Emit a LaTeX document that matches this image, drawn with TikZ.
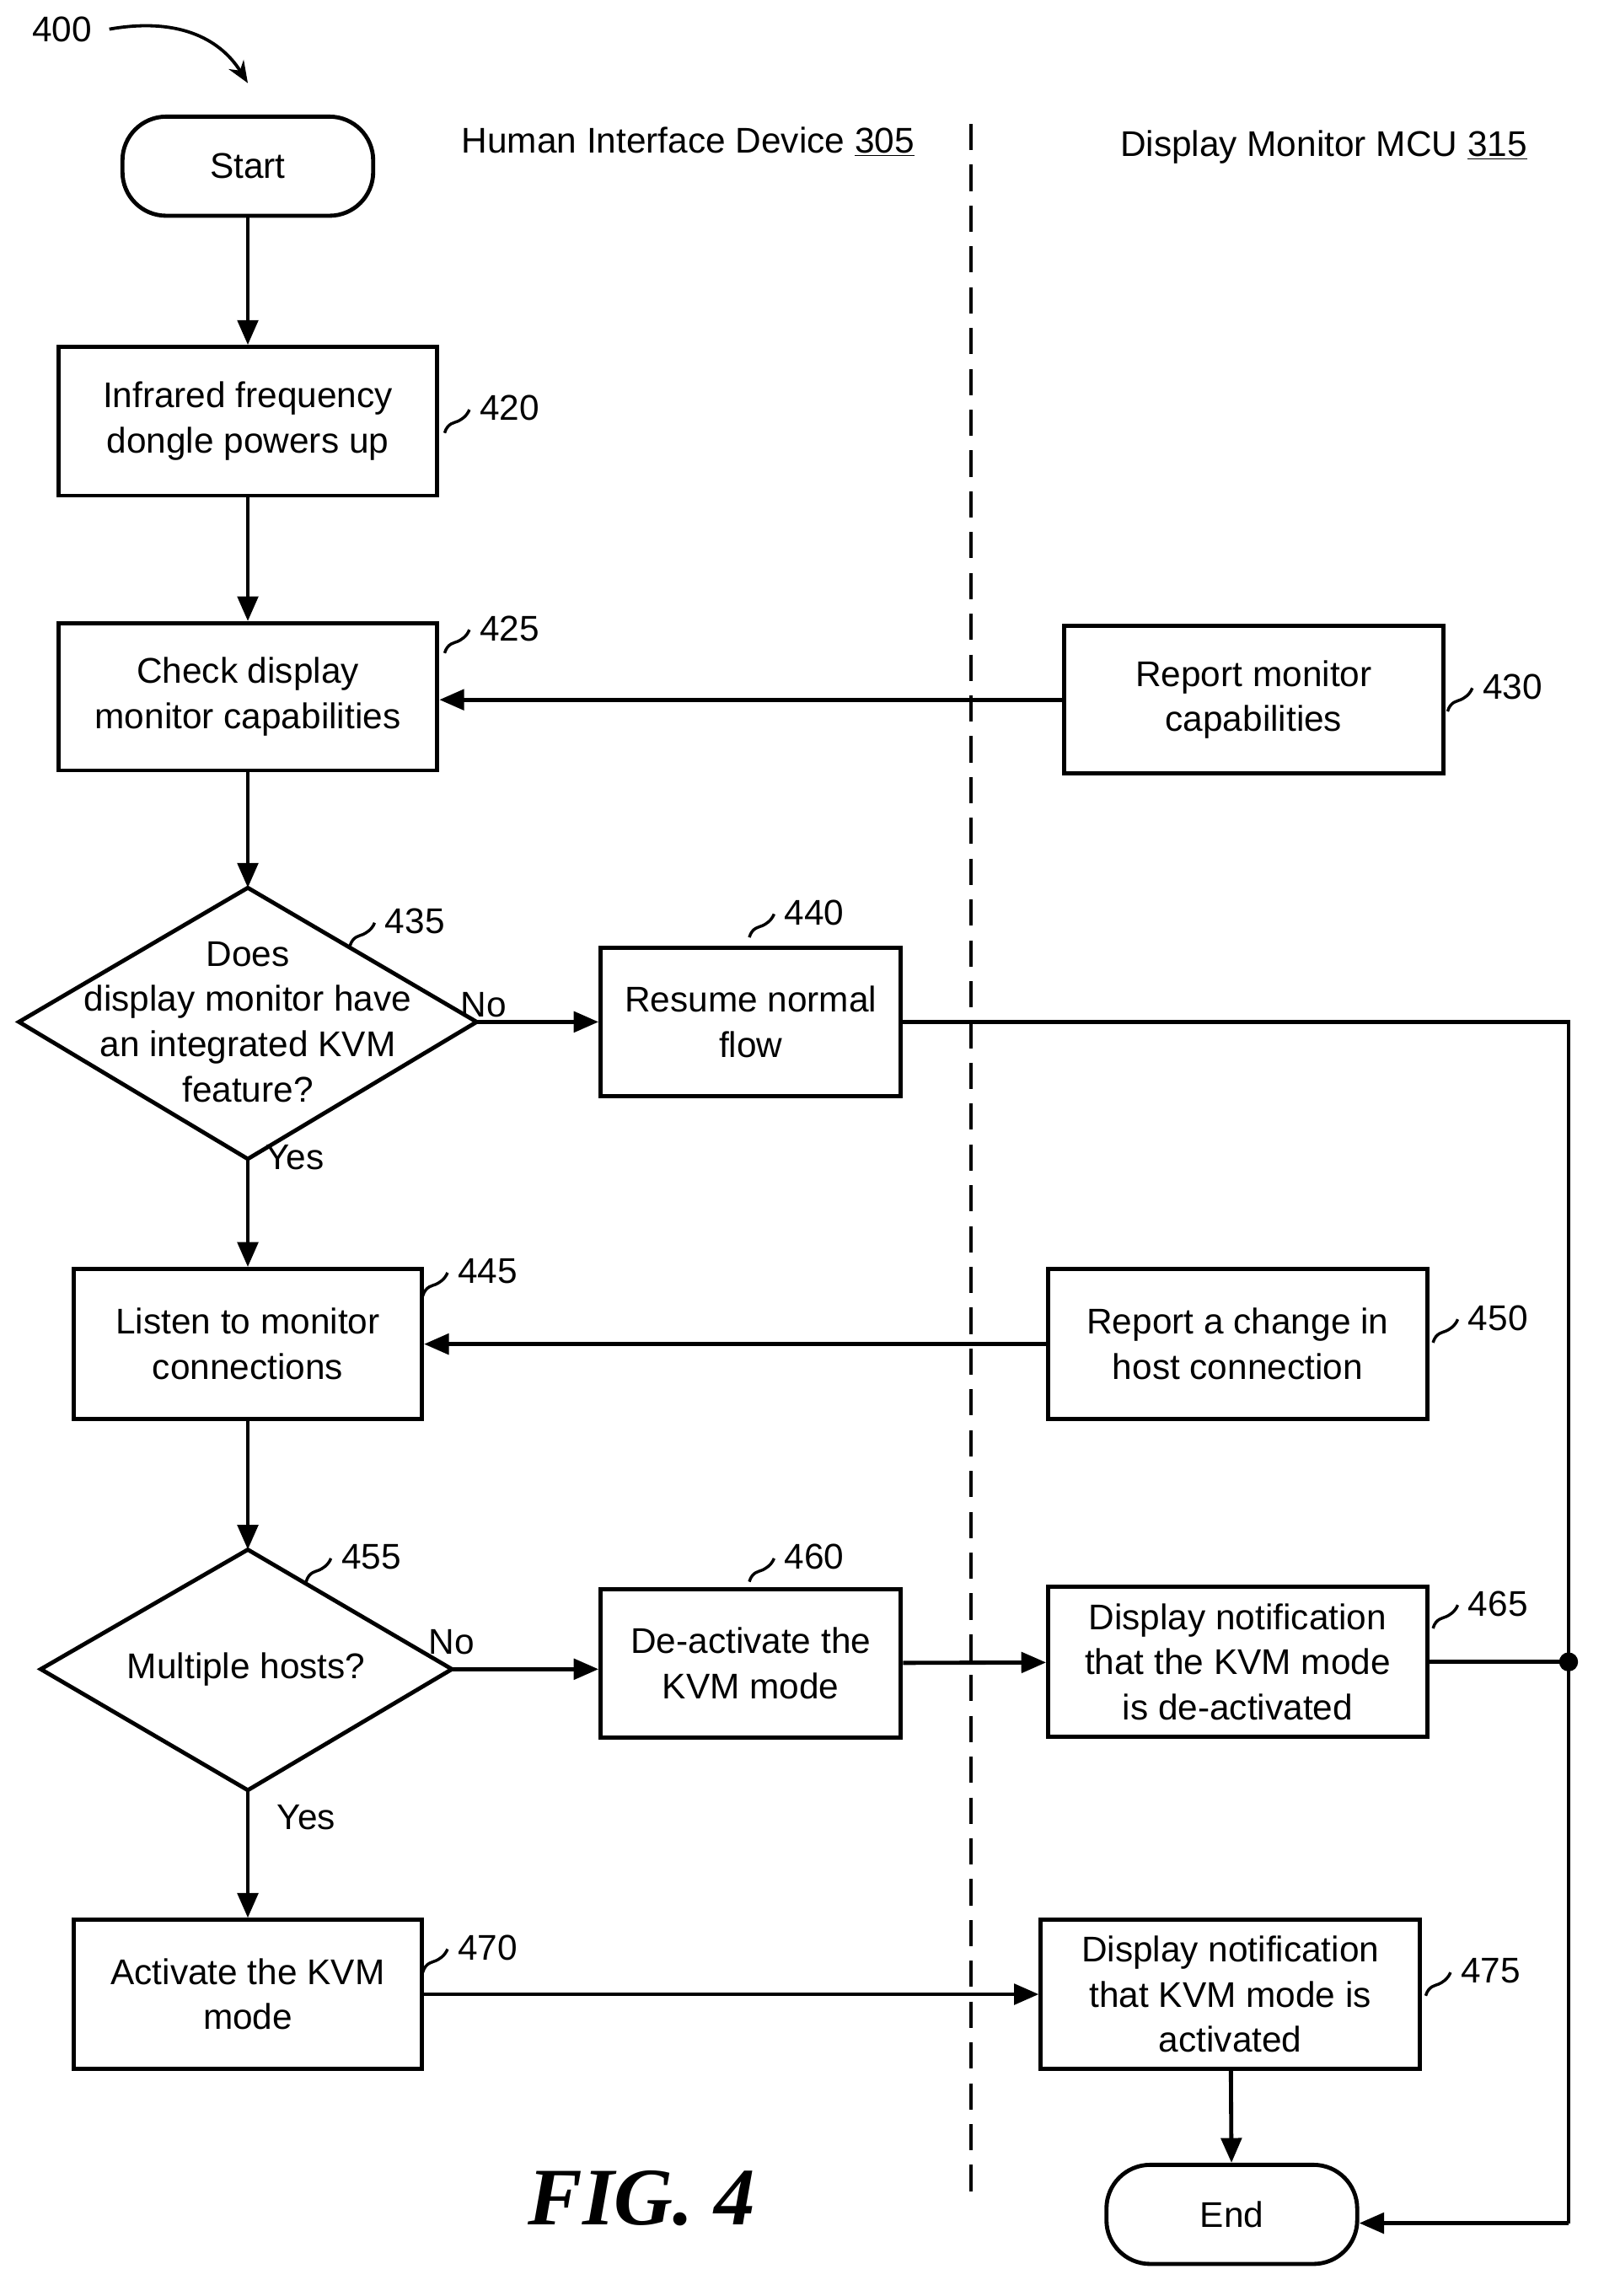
\documentclass[tikz,border=0pt]{standalone}
\usepackage{fontspec}
\setmainfont{Liberation Sans}
\newfontfamily\figfont{Liberation Serif}
\usetikzlibrary{shapes.geometric,arrows.meta}
\begin{document}
\begin{tikzpicture}[x=1pt,y=-1pt,
  every node/.style={font=\fontsize{24.5}{31}\selectfont},
  box/.style={draw,line width=2.8pt,align=center,inner sep=0pt},
  term/.style={draw,line width=2.8pt,rounded corners=30pt,minimum width=172pt,minimum height=68pt},
  arr/.style={line width=2.8pt,-{Triangle[length=17pt,width=14pt]}},
  ln/.style={line width=2.8pt}]
\newcommand\lbl[3]{\draw[line width=2pt] (#1,#2) .. controls (#1+2,#2-7) and (#1+7,#2-7) .. (#1+9,#2-8) .. controls (#1+11,#2-9) and (#1+15,#2-11) .. (#1+17,#2-16);
\node[anchor=west,inner sep=0pt] at (#1+24,#2-17) {#3};}
\useasboundingbox (0,0) rectangle (1100,1575);
% header
\node[anchor=west,inner sep=0pt] (n400) at (22,20) {400};
\draw[line width=2.2pt,-{Stealth[length=15pt,width=12pt]}] (75,20) .. controls (120,12) and (150,25) .. (170,57);
\node (h1) at (472,97) {Human Interface Device \underline{305}};
\node (h2) at (908,101) {Display Monitor MCU \underline{315}};
\draw[line width=2.6pt,dash pattern=on 18pt off 10pt] (666,85) -- (666,1510);
% nodes
\node[term] (start) at (170,114) {Start};
\node[box,minimum width=260pt,minimum height=102pt] (b420) at (170,289) {Infrared frequency\\dongle powers up};
\node[box,minimum width=260pt,minimum height=101pt] (b425) at (170,478) {Check display\\monitor capabilities};
\node[box,minimum width=260pt,minimum height=101pt] (b430) at (860,480) {Report monitor\\capabilities};
\draw[ln] (170,609) -- (327,701) -- (170,795) -- (13,701) -- cycle;
\node[align=center] (t435) at (170,701) {Does\\display monitor have\\an integrated KVM\\feature?};
\coordinate (d435t) at (170,609); \coordinate (d435r) at (327,701); \coordinate (d435b) at (170,795);
\node[box,minimum width=206pt,minimum height=102pt] (b440) at (515,701) {Resume normal\\flow};
\node[box,minimum width=239pt,minimum height=103pt] (b445) at (170,922) {Listen to monitor\\connections};
\node[box,minimum width=260pt,minimum height=103pt] (b450) at (849,922) {Report a change in\\host connection};
\draw[ln] (170,1063) -- (310,1145) -- (170,1228) -- (28,1145) -- cycle;
\node (t455) at (169,1145) {Multiple hosts?};
\coordinate (d455t) at (170,1063); \coordinate (d455r) at (310,1145); \coordinate (d455b) at (170,1228);
\node[box,minimum width=206pt,minimum height=102pt] (b460) at (515,1141) {De-activate the\\KVM mode};
\node[box,minimum width=260pt,minimum height=103pt] (b465) at (849,1140) {Display notification\\that the KVM mode\\is de-activated};
\node[box,minimum width=239pt,minimum height=102pt] (b470) at (170,1368) {Activate the KVM\\mode};
\node[box,minimum width=260pt,minimum height=102pt] (b475) at (844,1368) {Display notification\\that KVM mode is\\activated};
\node[term] (end) at (845,1519) {End};
% labels
\lbl{305}{297}{420}
\lbl{305}{448}{425}
\lbl{993}{488}{430}
\lbl{240}{649}{435}
\lbl{514}{643}{440}
\lbl{290}{889}{445}
\lbl{983}{921}{450}
\lbl{210}{1085}{455}
\lbl{514}{1085}{460}
\lbl{983}{1117}{465}
\lbl{290}{1353}{470}
\lbl{978}{1369}{475}
% connectors
\draw[arr] (start) -- (b420);
\draw[arr] (b420) -- (b425);
\draw[arr] (b430.west) -- (b425.east |- b430.west);
\draw[arr] (b425) -- (d435t);
\draw[arr] (d435r) -- (b440.west);
\node[anchor=south west,inner sep=2pt] (no1) at (314,700) {No};
\draw[arr] (d435b) -- (b445);
\node[anchor=north west,inner sep=2pt] (yes1) at (180,783) {Yes};
\draw[arr] (b450) -- (b445);
\draw[arr] (b445) -- (d455t);
\draw[arr] (d455r) -- (b460.west |- d455r);
\node[anchor=south west,inner sep=2pt] (no2) at (292,1137) {No};
\draw[arr] (b460) -- (b465);
\draw[arr] (d455b) -- (b470);
\node[anchor=north west,inner sep=2pt] (yes2) at (188,1236) {Yes};
\draw[arr] (b470) -- (b475);
\draw[arr] (b475) -- (end);
\coordinate (r1) at (1076,701);
\coordinate (dot) at (1076,1140);
\coordinate (r2) at (1076,1525);
\draw[ln] (b440.east) -- (r1) -- (r2);
\draw[arr] (r2) -- (end.east |- r2);
\draw[ln] (b465.east) -- (dot);
\fill (dot) circle (6.5pt);
\node[font=\figfont\bfseries\itshape\fontsize{56}{60}\selectfont] (fig) at (440,1508) {FIG. 4};
\end{tikzpicture}
\end{document}
